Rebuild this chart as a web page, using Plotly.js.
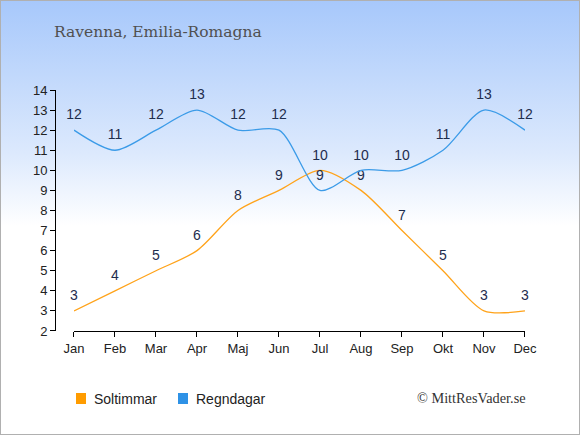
<!DOCTYPE html>
<html>
<head>
<meta charset="utf-8">
<script src="https://cdn.plot.ly/plotly-3.0.1.min.js"></script>
<style>
html,body{margin:0;padding:0;}
#wrap{position:absolute;left:0;top:0;width:578px;height:433px;border:1px solid #b0b0b0;
background:linear-gradient(to bottom,#a7c8fb 0%,#dce9fd 35%,#ffffff 52%,#ffffff 100%);}
#chart{position:absolute;left:-1px;top:-1px;width:580px;height:435px;}
</style>
</head>
<body>
<div id="wrap"><div id="chart"></div></div>
<script>
var months = ["Jan","Feb","Mar","Apr","Maj","Jun","Jul","Aug","Sep","Okt","Nov","Dec"];
var soltimmar = [3,4,5,6,8,9,10,9,7,5,3,3];
var regndagar = [12,11,12,13,12,12,9,10,10,11,13,12];
var yTicks = [2,3,4,5,6,7,8,9,10,11,12,13,14];
var seriesNames = ["Soltimmar","Regndagar"];

var orange = "#ffa31a";
var blue = "#3b9be8";
var legendColors = ["#ff9c00","#2e92e6"];
var labelFont = {family:"Liberation Sans, Arial, sans-serif", size:14, color:"#1e2d4d"};

function seriesTrace(vals, color){
  return {x:months, y:vals, mode:"lines+markers+text", text:vals.map(String), textposition:"top center",
   textfont:labelFont, line:{color:color, width:1.3, shape:"spline", smoothing:0.8},
   marker:{size:10, opacity:0, color:color},
   showlegend:false, hoverinfo:"none", cliponaxis:false};
}
var traces = [seriesTrace(soltimmar, orange), seriesTrace(regndagar, blue)];

// legend drawn manually (paper coords: plot area x 55..525, y 90..341)
var legX = [76, 178];
function px2x(p){return (p-55)/470;}
function py2y(p){return (341-p)/251;}
var shapes = [], annotations = [];
seriesNames.forEach(function(n,i){
  shapes.push({type:"rect", xref:"paper", yref:"paper", x0:px2x(legX[i]), x1:px2x(legX[i]+10),
    y0:py2y(404), y1:py2y(393), fillcolor:legendColors[i], line:{width:0}});
  annotations.push({text:n, xref:"paper", yref:"paper", x:px2x(legX[i]+16), y:py2y(398.5),
    xanchor:"left", yanchor:"middle", showarrow:false, font:{family:"Liberation Sans, Arial, sans-serif", size:14, color:"#222"}});
});
annotations.push({text:"Ravenna, Emilia-Romagna", xref:"paper", yref:"paper", x:-0.006, y:1, xanchor:"left", yanchor:"middle",
     yshift:58, showarrow:false, font:{family:"DejaVu Serif, serif", size:15.5, color:"#505050"}});
annotations.push({text:"© MittResVader.se", xref:"paper", yref:"paper", x:1.006, y:0, xanchor:"right", yanchor:"middle",
     yshift:-57, showarrow:false, font:{family:"Liberation Serif, serif", size:14.3, color:"#333"}});

var layout = {
  width:580, height:435,
  paper_bgcolor:"rgba(0,0,0,0)", plot_bgcolor:"rgba(0,0,0,0)",
  margin:{l:55, r:55, t:90, b:94},
  font:{family:"Liberation Sans, Arial, sans-serif", size:13, color:"#222"},
  xaxis:{type:"category", domain:[0.0404,1], range:[0,11], showline:true, linecolor:"#000", linewidth:1,
         ticks:"outside", ticklen:5, tickcolor:"#000", showgrid:false, zeroline:false, fixedrange:true,
         tickfont:{size:13, color:"#222"}},
  yaxis:{domain:[0.04,1], range:[2,14], tickvals:yTicks, ticktext:yTicks.map(String), anchor:"free", position:0,
         showline:true, linecolor:"#000", linewidth:1, ticks:"outside", ticklen:5, tickcolor:"#000",
         showgrid:false, zeroline:false, fixedrange:true, tickfont:{size:13, color:"#222"}},
  showlegend:false,
  shapes:shapes,
  annotations:annotations
};

Plotly.newPlot("chart", traces, layout, {staticPlot:true, displayModeBar:false});
</script>
</body>
</html>
